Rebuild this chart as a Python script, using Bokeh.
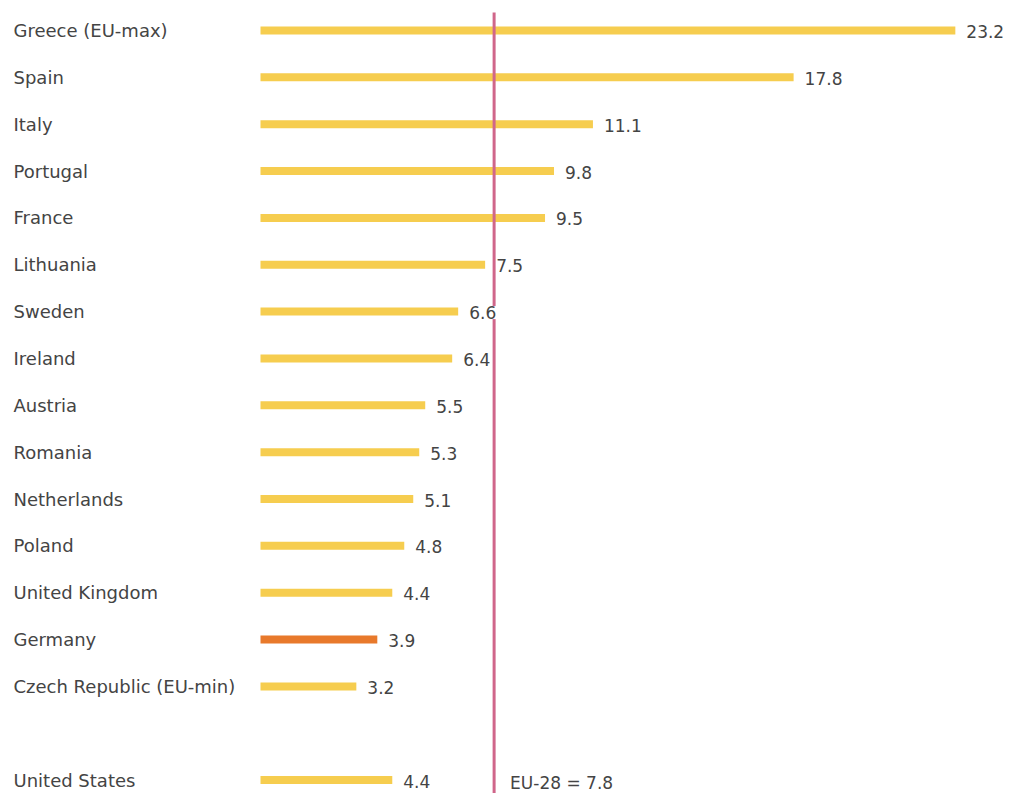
from bokeh.plotting import figure
from bokeh.models import ColumnDataSource, LabelSet, Label, Range1d
from bokeh.core.properties import value
from bokeh.embed import file_html
from bokeh.resources import INLINE

countries = ["Greece (EU-max)", "Spain", "Italy", "Portugal", "France", "Lithuania",
             "Sweden", "Ireland", "Austria", "Romania", "Netherlands", "Poland",
             "United Kingdom", "Germany", "Czech Republic (EU-min)", "United States"]
values = [23.2, 17.8, 11.1, 9.8, 9.5, 7.5, 6.6, 6.4, 5.5, 5.3, 5.1, 4.8, 4.4, 3.9, 3.2, 4.4]
rows = [0, 1, 2, 3, 4, 5, 6, 7, 8, 9, 10, 11, 12, 13, 14, 16]
highlight = "Germany"
eu_avg = 7.8
eu_label = "EU-28 = 7.8"

YELLOW = "#f6cd4f"
ORANGE = "#e8792b"
LINE = "#d0668a"
TEXT = "#444444"
FONT = "DejaVu Sans"

W, H = 1005, 793
x0_px, scale = 260, 29.95
row0_px, row_px = 30, 46.85

colors = [ORANGE if c == highlight else YELLOW for c in countries]
labels = [f"{v:.1f}" for v in values]

src = ColumnDataSource(dict(country=countries, val=values, row=rows, color=colors, lab=labels,
                            zero=[0] * len(values)))

p = figure(width=W, height=H, output_backend="svg", toolbar_location=None,
           x_range=Range1d(-x0_px / scale, (W - x0_px) / scale),
           y_range=Range1d((H - row0_px) / row_px, -row0_px / row_px),
           min_border=0, outline_line_color=None)
p.axis.visible = False
p.grid.visible = False

p.hbar(y="row", left=0, right="val", height=8 / row_px, fill_color="color",
       line_color=None, source=src)

# EU average line
p.segment(x0=[eu_avg], x1=[eu_avg], y0=[(12 - row0_px) / row_px], y1=[(H + 10 - row0_px) / row_px],
          line_color=LINE, line_width=3)

# value labels (white box interrupts the line)
p.add_layout(LabelSet(x="val", y="row", text="lab", source=src, x_offset=11, y_offset=-1,
                      text_baseline="middle", text_align="left", text_font=value(FONT),
                      text_font_size="17px", text_color=TEXT,
                      background_fill_color="white"))

# country labels
p.add_layout(LabelSet(x="zero", y="row", text="country", source=src, x_offset=-247,
                      text_baseline="middle", text_align="left", text_font=value(FONT),
                      text_font_size="18px", text_color=TEXT))

p.add_layout(Label(x=eu_avg, y=1, y_units="screen", x_offset=16, text=eu_label,
                   text_baseline="bottom", text_align="left", text_font=FONT,
                   text_font_size="17px", text_color=TEXT))

open("out.html", "w").write(file_html(p, INLINE))
